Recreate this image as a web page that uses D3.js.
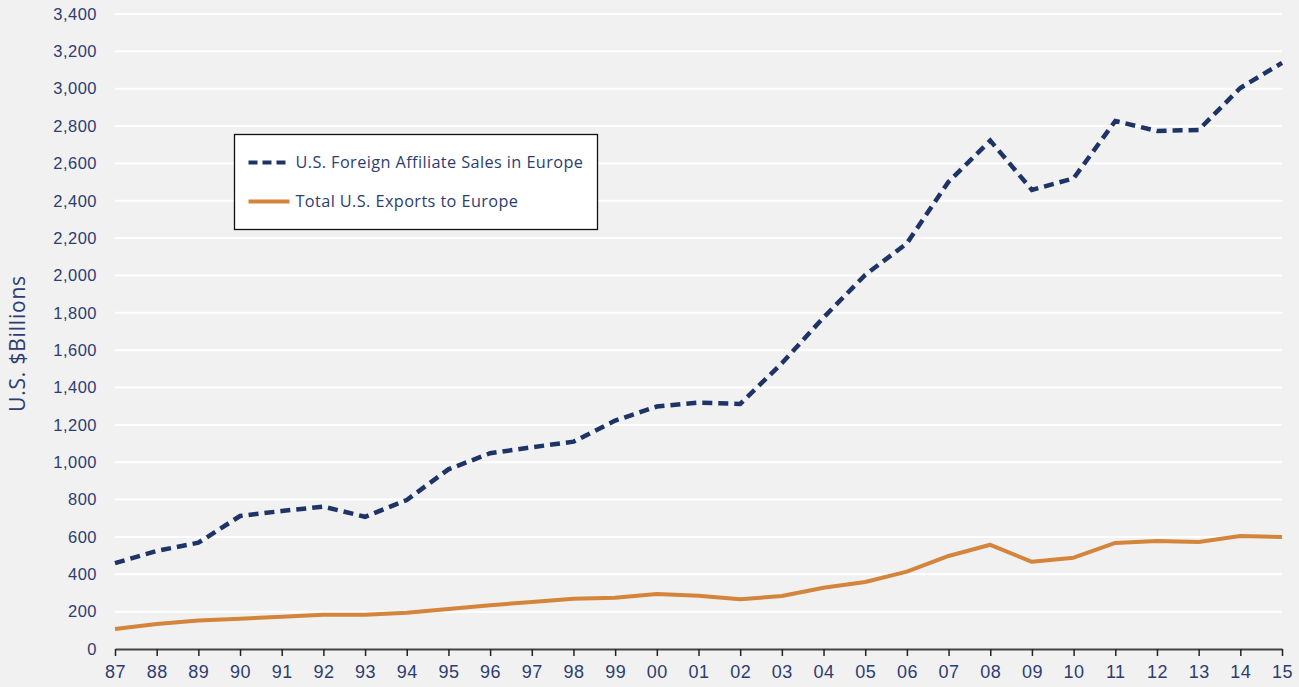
<!DOCTYPE html>
<html>
<head>
<meta charset="utf-8">
<script src="https://cdn.jsdelivr.net/npm/d3@7"></script>
<style>
  body { margin: 0; background: #f1f1f1; }
  svg { display: block; font-family: "Open Sans", "Noto Sans", sans-serif; }
</style>
</head>
<body>
<svg width="1299" height="687"></svg>
<script>
// years on the x axis
const years = ["87","88","89","90","91","92","93","94","95","96","97","98","99","00",
  "01","02","03","04","05","06","07","08","09","10","11","12","13","14","15"];

// U.S. Foreign Affiliate Sales in Europe ($bn)
const affiliateSales = [460, 525, 569, 712, 739, 762, 708, 798, 962, 1048, 1080, 1110, 1223, 1298,
  1319, 1312, 1530, 1775, 2003, 2172, 2502, 2722, 2458, 2520, 2827, 2774, 2779, 3004, 3138];

// Total U.S. Exports to Europe ($bn)
const exportsEurope = [107, 134, 152, 162, 173, 184, 184, 194, 214, 234, 252, 269, 275, 294,
  285, 266, 284, 328, 359, 414, 498, 558, 467, 489, 568, 578, 573, 605, 600];

const yTicks = [0, 200, 400, 600, 800, 1000, 1200, 1400, 1600, 1800, 2000, 2200, 2400,
  2600, 2800, 3000, 3200, 3400];

const textColor = "#2d3d72";
const navy = "#1f3466";
const orange = "#d5843b";

const svg = d3.select("svg");
const margin = { left: 115, right: 17, top: 14, bottom: 38 };
const W = 1299, H = 687;

const x = d3.scalePoint().domain(years).range([margin.left, W - margin.right]);
const y = d3.scaleLinear().domain([0, 3400]).range([H - margin.bottom, margin.top]);

// 가로 격자선
svg.append("g")
  .selectAll("line")
  .data(yTicks.slice(1))
  .enter()
  .append("line")
  .attr("x1", margin.left)
  .attr("x2", W - margin.right)
  .attr("y1", (d) => y(d))
  .attr("y2", (d) => y(d))
  .attr("stroke", "#ffffff")
  .attr("stroke-width", 2);

// y axis labels
const yAxis = svg.append("g")
  .attr("transform", `translate(${margin.left},0)`)
  .call(d3.axisLeft(y).tickValues(yTicks).tickSize(0).tickPadding(18).tickFormat(d3.format(",")));
yAxis.select(".domain").remove();
yAxis.selectAll("text").attr("fill", textColor).attr("font-size", "16.5px")
  .attr("letter-spacing", "0.5px");

// x axis
const xAxis = svg.append("g")
  .attr("transform", `translate(0,${y(0)})`)
  .call(d3.axisBottom(x).tickSizeInner(7).tickSizeOuter(0).tickPadding(9));
xAxis.select(".domain").attr("stroke", "#444").attr("stroke-width", 2);
xAxis.selectAll(".tick line").attr("stroke", "#222").attr("stroke-width", 1.5);
xAxis.selectAll("text").attr("fill", textColor).attr("font-size", "18px")
  .attr("letter-spacing", "0.5px");

// y title
svg.append("text")
  .attr("transform", `translate(25,${(H - margin.bottom + margin.top) / 2 + 12}) rotate(-90)`)
  .attr("text-anchor", "middle")
  .attr("font-size", "21px")
  .attr("letter-spacing", "0.8px")
  .attr("fill", textColor)
  .text("U.S. $Billions");

const line = d3.line()
  .x((d, i) => x(years[i]))
  .y((d) => y(d));

svg.append("path")
  .datum(exportsEurope)
  .attr("d", line)
  .attr("fill", "none")
  .attr("stroke", orange)
  .attr("stroke-width", 4)
  .attr("stroke-linejoin", "round");

svg.append("path")
  .datum(affiliateSales)
  .attr("d", line)
  .attr("fill", "none")
  .attr("stroke", navy)
  .attr("stroke-width", 4.5)
  .attr("stroke-dasharray", "10,6");

// legend
const lg = svg.append("g").attr("transform", "translate(234.5,134.5)");
lg.append("rect")
  .attr("width", 363)
  .attr("height", 95)
  .attr("fill", "#ffffff")
  .attr("stroke", "#111")
  .attr("stroke-width", 1.3);

const legendItems = [
  { label: "U.S. Foreign Affiliate Sales in Europe", color: navy, dash: "9,5" },
  { label: "Total U.S. Exports to Europe", color: orange, dash: null },
];

legendItems.forEach((item, i) => {
  const yy = 28 + i * 39;
  lg.append("line")
    .attr("x1", 14).attr("x2", 55)
    .attr("y1", yy).attr("y2", yy)
    .attr("stroke", item.color)
    .attr("stroke-width", 4)
    .attr("stroke-dasharray", item.dash);
  lg.append("text")
    .attr("x", 61)
    .attr("y", yy + 5)
    .attr("font-size", "16.3px")
    .attr("letter-spacing", "0.4px")
    .attr("fill", textColor)
    .text(item.label);
});
</script>
</body>
</html>
